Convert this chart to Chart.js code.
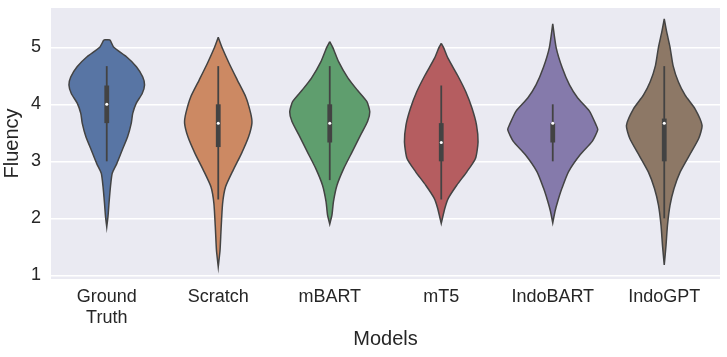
<!DOCTYPE html>
<html>
<head>
<meta charset="utf-8">
<script src="https://cdn.jsdelivr.net/npm/chart.js@4"></script>
<style>
  html, body { margin: 0; padding: 0; background: #fff; }
  #wrap { width: 727px; height: 357px; }
</style>
</head>
<body>
<div id="wrap"><canvas id="chart"></canvas></div>
<script>
// categories
const models = [['Ground', 'Truth'], 'Scratch', 'mBART', 'mT5', 'IndoBART', 'IndoGPT'];
const colors = ['#5875a4', '#cc8963', '#5f9e6e', '#b55d60', '#857aab', '#8d7866'];
const yTicks = [1, 2, 3, 4, 5];

// violin outlines: fluency levels (top -> bottom) and half widths (in category units)
const levelsGT = [5.13, 5.0, 4.835, 4.66, 4.48, 4.34, 4.19, 4.02, 3.84, 3.67, 3.43, 3.2, 2.96, 2.79, 2.55, 2.26, 2.03, 1.85];
const widthsGT = [0.027, 0.063, 0.177, 0.266, 0.323, 0.339, 0.318, 0.265, 0.233, 0.220, 0.187, 0.139, 0.090, 0.049, 0.033, 0.020, 0.011, 0];
const levelsScratch = [5.175, 5.0, 4.72, 4.43, 4.13, 3.84, 3.67, 3.43, 3.14, 2.85, 2.55, 2.26, 1.795, 1.44, 1.15];
const widthsScratch = [0, 0.033, 0.097, 0.170, 0.247, 0.291, 0.302, 0.272, 0.209, 0.135, 0.065, 0.039, 0.025, 0.016, 0];
const levelsMBART = [5.1, 5.0, 4.75, 4.46, 4.25, 4.05, 3.87, 3.7, 3.46, 3.17, 2.88, 2.58, 2.29, 2.06, 1.9];
const widthsMBART = [0, 0.027, 0.079, 0.164, 0.247, 0.332, 0.359, 0.339, 0.276, 0.202, 0.127, 0.065, 0.033, 0.020, 0];
const levelsMT5 = [5.07, 5.0, 4.81, 4.51, 4.22, 3.93, 3.64, 3.34, 3.05, 2.82, 2.58, 2.35, 2.18, 1.91];
const widthsMT5 = [0, 0.020, 0.060, 0.146, 0.220, 0.276, 0.316, 0.330, 0.307, 0.231, 0.139, 0.063, 0.033, 0];
const levelsIndoBART = [5.41, 5.0, 4.64, 4.34, 4.11, 3.88, 3.64, 3.555, 3.35, 3.12, 2.82, 2.53, 2.3, 2.12, 1.92];
const widthsIndoBART = [0, 0.030, 0.085, 0.150, 0.224, 0.329, 0.388, 0.404, 0.354, 0.247, 0.142, 0.083, 0.045, 0.020, 0];
const levelsIndoGPT = [5.5, 5.27, 5.0, 4.68, 4.39, 4.16, 3.92, 3.63, 3.4, 3.1, 2.81, 2.52, 2.23, 1.88, 1.53, 1.18];
const widthsIndoGPT = [0, 0.022, 0.052, 0.079, 0.127, 0.187, 0.276, 0.339, 0.309, 0.224, 0.142, 0.087, 0.052, 0.029, 0.016, 0];

// inner box statistics
const q1 = [3.67, 3.25, 3.33, 3.0, 3.33, 3.0];
const medians = [4.0, 3.67, 3.67, 3.33, 3.67, 3.67];
const q3 = [4.33, 4.0, 4.0, 3.67, 3.67, 3.75];
const whiskerLow = [3.0, 2.33, 2.67, 2.33, 3.0, 2.0];
const whiskerHigh = [4.67, 4.67, 4.67, 4.33, 4.0, 4.67];

const profiles = [
  [levelsGT, widthsGT],
  [levelsScratch, widthsScratch],
  [levelsMBART, widthsMBART],
  [levelsMT5, widthsMT5],
  [levelsIndoBART, widthsIndoBART],
  [levelsIndoGPT, widthsIndoGPT]
];

const lineColor = '#434343';
const datasets = [];

profiles.forEach((p, i) => {
  const lv = p[0], w = p[1];
  const pts = [];
  for (let k = 0; k < lv.length; k++) pts.push({x: i - w[k], y: lv[k]});
  for (let k = lv.length - 1; k >= 0; k--) pts.push({x: i + w[k], y: lv[k]});
  pts.push(pts[0]);  // close the outline
  datasets.push({
    data: pts,
    order: 2,
    showLine: true,
    fill: 'shape',
    backgroundColor: colors[i],
    borderColor: lineColor,
    borderWidth: 1.5,
    tension: 0.2,
    pointRadius: 0
  });
});

models.forEach((m, i) => {
  datasets.push({
    data: [{x: i, y: whiskerLow[i]}, {x: i, y: whiskerHigh[i]}],
    order: 1,
    showLine: true, borderColor: lineColor, borderWidth: 1.8, pointRadius: 0, fill: false
  });
  datasets.push({
    data: [{x: i, y: q1[i]}, {x: i, y: q3[i]}],
    order: 1,
    showLine: true, borderColor: lineColor, borderWidth: 4.8, borderCapStyle: 'butt', pointRadius: 0, fill: false
  });
  datasets.push({
    data: [{x: i, y: medians[i]}],
    order: 0,
    showLine: false, pointRadius: 1.5, pointBackgroundColor: '#ffffff', pointBorderWidth: 0, fill: false
  });
});

// seaborn style grey panel
const panelBg = {
  id: 'panelBg',
  beforeDraw(chart) {
    const a = chart.chartArea, ctx = chart.ctx;
    ctx.save();
    ctx.fillStyle = '#eaeaf2';
    ctx.fillRect(a.left, a.top, a.right - a.left, a.bottom - a.top);
    ctx.restore();
  }
};

const font = 'Liberation Sans, Arial, sans-serif';

new Chart(document.getElementById('chart'), {
  type: 'scatter',
  data: {datasets: datasets},
  plugins: [panelBg],
  options: {
    responsive: true,
    maintainAspectRatio: false,
    animation: false,
    events: [],
    layout: {padding: {top: 8, right: 7, left: 0, bottom: 0}},
    plugins: {legend: {display: false}, tooltip: {enabled: false}},
    scales: {
      x: {
        type: 'linear', min: -0.5, max: 5.5,
        afterBuildTicks: (s) => { s.ticks = models.map((m, i) => ({value: i})); },
        afterFit: (s) => { s.height = 78; s.paddingLeft = 0; s.paddingRight = 0; },
        grid: {display: false},
        border: {display: false},
        ticks: {
          callback: (v) => models[v],
          color: '#262626', padding: 0, maxRotation: 0, autoSkip: false,
          font: {family: font, size: 18, lineHeight: 1.15}
        },
        title: {
          display: true, text: 'Models', color: '#262626',
          font: {family: font, size: 20},
          padding: {top: 0, bottom: 6}
        }
      },
      y: {
        type: 'linear', min: 0.935, max: 5.69,
        afterBuildTicks: (s) => { s.ticks = yTicks.map(v => ({value: v})); },
        afterFit: (s) => { s.width = 51; s.paddingTop = 0; s.paddingBottom = 0; },
        grid: {color: '#ffffff', lineWidth: 1.5, drawTicks: false},
        border: {display: false},
        ticks: {
          color: '#262626', padding: 10,
          font: {family: font, size: 18}
        },
        title: {
          display: true, text: 'Fluency', color: '#262626',
          font: {family: font, size: 20},
          padding: {top: 0, bottom: 0}
        }
      }
    }
  }
});
</script>
</body>
</html>
